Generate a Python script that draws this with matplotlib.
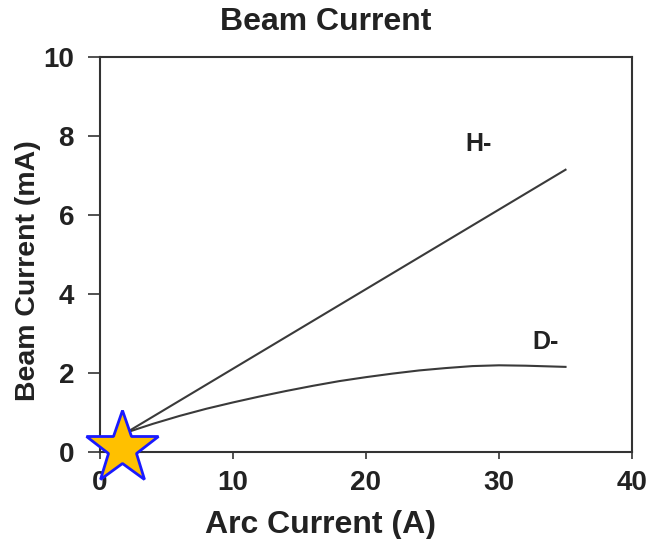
import matplotlib
matplotlib.use("Agg")
import matplotlib.pyplot as plt

plt.rcParams['font.family'] = ['Liberation Sans', 'DejaVu Sans']
plt.rcParams['font.weight'] = 'bold'

# data
h_x = [2, 35]
h_y = [0.5, 7.15]
d_x = [2, 4, 6, 8, 10, 12, 14, 16, 18, 20, 22, 24, 26, 28, 30, 32, 35]
d_y = [0.5, 0.72, 0.92, 1.1, 1.26, 1.41, 1.55, 1.68, 1.8, 1.9, 1.99, 2.07,
       2.13, 2.18, 2.2, 2.19, 2.16]
star_x = [1.7]
star_y = [0.1]
x_ticks = [0, 10, 20, 30, 40]
y_ticks = [0, 2, 4, 6, 8, 10]

fig = plt.figure(figsize=(6.57, 5.39), dpi=100)
ax = fig.add_axes([0.152, 0.161, 0.81, 0.733])

line_col = '#3a3a3a'
ax.plot(h_x, h_y, color=line_col, lw=1.5)
ax.plot(d_x, d_y, color=line_col, lw=1.5)
ax.plot(star_x, star_y, marker='*', ms=55, mfc='#FFC000', mec='#1a1aff',
        mew=2, ls='none', clip_on=False, zorder=5)

ax.text(28.5, 7.8, 'H-', fontsize=18, fontweight='bold', color='#222222',
        ha='center', va='center')
ax.text(33.5, 2.8, 'D-', fontsize=18, fontweight='bold', color='#222222',
        ha='center', va='center')

ax.set_xlim(0, 40)
ax.set_ylim(0, 10)
ax.set_xticks(x_ticks)
ax.set_yticks(y_ticks)
ax.tick_params(direction='out', width=1.2, colors='#333333',
               labelsize=20, labelcolor='#222222')
ax.tick_params(axis='x', length=5, pad=8)
ax.tick_params(axis='y', length=8.6, pad=10)
for s in ax.spines.values():
    s.set_color('#333333')
    s.set_linewidth(1.5)

fig.text(326 / 657, 1 - 22 / 539, 'Beam Current', fontsize=23, fontweight='bold',
         color='#222222', ha='center', va='center')
ax.set_xlabel('Arc Current (A)', fontsize=23, fontweight='bold', color='#222222')
ax.set_ylabel('Beam Current (mA)', fontsize=20.5, fontweight='bold', color='#222222')
ax.xaxis.set_label_coords(0.414, -0.145)
ax.yaxis.set_label_coords(-0.11, 0.46)

fig.savefig('out.png', dpi=100)
